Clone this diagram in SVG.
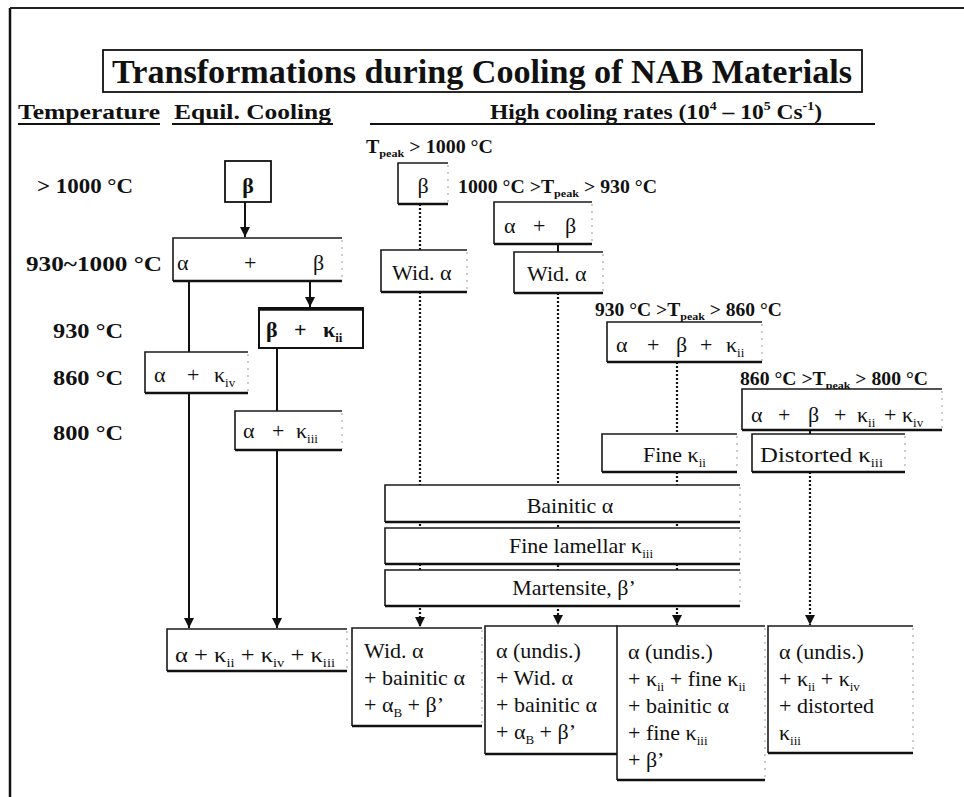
<svg xmlns="http://www.w3.org/2000/svg" width="964" height="797" viewBox="0 0 964 797" font-family="'Liberation Serif', 'Times New Roman', serif">
<style>
text{font-family:'Liberation Serif','Times New Roman',serif;fill:#111}
.title{font-size:34px;font-weight:bold}
.hdr{font-size:22px;font-weight:bold}
.tmp{font-size:21px;font-weight:bold}
.pk{font-size:18px;font-weight:bold}
.bx{font-size:22px}
.sub{font-size:13px}
.edge{fill:none;stroke:#1a1a1a;stroke-width:1.6}
.bot{fill:none;stroke:#111;stroke-width:2.6}
.dotr{fill:none;stroke:#aaa;stroke-width:1.2;stroke-dasharray:2 5}
.fill{fill:#fff;stroke:none}
.solid{stroke:#111;stroke-width:2;fill:none}
.dot{stroke:#111;stroke-width:2.2;fill:none;stroke-dasharray:2 2}
</style>
<defs>
<marker id="ad" viewBox="0 0 10 10" refX="10" refY="5" markerWidth="10" markerHeight="10" markerUnits="userSpaceOnUse" orient="auto">
<path d="M0,0 L10,5 L0,10 Z" fill="#111"/>
</marker>
</defs>
<rect width="964" height="797" fill="#fff"/>
<g id="frame">
<line x1="10" y1="8" x2="10" y2="797" stroke="#111" stroke-width="2.5"/>
<line x1="10" y1="8" x2="964" y2="8" stroke="#222" stroke-width="2"/>
</g>
<g id="title">
<rect x="103" y="50" width="759" height="42" fill="none" stroke="#111" stroke-width="1.8"/>
<text class="title" x="112" y="83" textLength="740" lengthAdjust="spacingAndGlyphs">Transformations during Cooling of NAB Materials</text>
</g>
<g id="headers">
<text class="hdr" x="18" y="119" textLength="142" lengthAdjust="spacingAndGlyphs">Temperature</text>
<line x1="18" y1="124" x2="160" y2="124" stroke="#111" stroke-width="2"/>
<text class="hdr" x="174" y="119" textLength="157" lengthAdjust="spacingAndGlyphs">Equil. Cooling</text>
<line x1="172" y1="124" x2="333" y2="124" stroke="#111" stroke-width="2"/>
<text class="hdr" x="490" y="119" textLength="332" lengthAdjust="spacingAndGlyphs">High cooling rates (10<tspan font-size="13" dy="-9">4</tspan><tspan dy="9"> – 10</tspan><tspan font-size="13" dy="-9">5</tspan><tspan dy="9"> Cs</tspan><tspan font-size="13" dy="-9">-1</tspan><tspan dy="9">)</tspan></text>
<line x1="370" y1="124" x2="875" y2="124" stroke="#111" stroke-width="2"/>
</g>
<g id="temps">
<text class="tmp" x="37" y="193" textLength="96" lengthAdjust="spacingAndGlyphs">&gt; 1000 °C</text>
<text class="tmp" x="26" y="271" textLength="136" lengthAdjust="spacingAndGlyphs">930~1000 °C</text>
<text class="tmp" x="53" y="338" textLength="70" lengthAdjust="spacingAndGlyphs">930 °C</text>
<text class="tmp" x="53" y="385" textLength="70" lengthAdjust="spacingAndGlyphs">860 °C</text>
<text class="tmp" x="53" y="440" textLength="70" lengthAdjust="spacingAndGlyphs">800 °C</text>
</g>
<g id="peaks">
<text class="pk" x="366" y="153" textLength="127" lengthAdjust="spacingAndGlyphs">T<tspan font-size="11" dy="4">peak</tspan><tspan dy="-4"> &gt; 1000 °C</tspan></text>
<text class="pk" x="458" y="193" textLength="199" lengthAdjust="spacingAndGlyphs">1000 °C &gt;T<tspan font-size="11" dy="4">peak</tspan><tspan dy="-4"> &gt; 930 °C</tspan></text>
<text class="pk" x="595" y="316" textLength="187" lengthAdjust="spacingAndGlyphs">930 °C &gt;T<tspan font-size="11" dy="4">peak</tspan><tspan dy="-4"> &gt; 860 °C</tspan></text>
<text class="pk" x="740" y="385" textLength="188" lengthAdjust="spacingAndGlyphs">860 °C &gt;T<tspan font-size="11" dy="4">peak</tspan><tspan dy="-4"> &gt; 800 °C</tspan></text>
</g>
<g id="connectors">
<line class="solid" x1="245" y1="202" x2="245" y2="237" marker-end="url(#ad)"/>
<line class="solid" x1="310" y1="281" x2="310" y2="307" marker-end="url(#ad)"/>
<line class="solid" x1="189" y1="281" x2="189" y2="628" marker-end="url(#ad)"/>
<line class="solid" x1="277" y1="348" x2="277" y2="628" marker-end="url(#ad)"/>
<line class="dot" x1="420" y1="204" x2="420" y2="250"/>
<line class="dot" x1="420" y1="292" x2="420" y2="627" marker-end="url(#ad)"/>
<line class="solid" x1="558" y1="244" x2="558" y2="252" stroke-width="1.5"/>
<line class="dot" x1="558" y1="293" x2="558" y2="625" marker-end="url(#ad)"/>
<line class="dot" x1="677" y1="362" x2="677" y2="434"/>
<line class="dot" x1="677" y1="472" x2="677" y2="625" marker-end="url(#ad)"/>
<line class="solid" x1="810" y1="430" x2="810" y2="434" stroke-width="1.5"/>
<line class="dot" x1="810" y1="472" x2="810" y2="625" marker-end="url(#ad)"/>
</g>
<g id="eq-beta">
<rect x="225" y="161" width="46" height="41" fill="#fff" stroke="#111" stroke-width="1.8"/>
<text class="bx" x="248" y="193" text-anchor="middle" font-weight="bold">β</text>
</g>
<g id="eq-alpha-beta">
<rect class="fill" x="173" y="238" width="169" height="43"/>
<path class="edge" d="M342,238 H173 V281"/><path class="bot" d="M173,281 H342"/><path class="dotr" d="M342,240 V280"/>
<text class="bx" x="177" y="270">α</text><text class="bx" x="244" y="270">+</text><text class="bx" x="313" y="270">β</text>
</g>
<g id="eq-beta-kii">
<rect x="259" y="308" width="104" height="40" fill="#fff" stroke="#111" stroke-width="2"/>
<line x1="259" y1="309" x2="363" y2="309" stroke="#111" stroke-width="3.5"/>
<text class="bx" y="337" font-weight="bold"><tspan x="266">β</tspan><tspan x="294">+</tspan><tspan x="323">κ</tspan><tspan class="sub" dy="5">ii</tspan></text>
</g>
<g id="eq-alpha-kiv">
<rect class="fill" x="145" y="352" width="103" height="41"/>
<path class="edge" d="M248,352 H145 V393"/><path class="bot" d="M145,393 H248"/><path class="dotr" d="M248,354 V392"/>
<text class="bx" y="382"><tspan x="154">α</tspan><tspan x="187">+</tspan><tspan x="214">κ</tspan><tspan class="sub" dy="5">iv</tspan></text>
</g>
<g id="eq-alpha-kiii">
<rect class="fill" x="235" y="411" width="107" height="39"/>
<path class="edge" d="M342,411 H235 V450"/><path class="bot" d="M235,450 H342"/><path class="dotr" d="M342,413 V449"/>
<text class="bx" y="438"><tspan x="243">α</tspan><tspan x="272">+</tspan><tspan x="296">κ</tspan><tspan class="sub" dy="5">iii</tspan></text>
</g>
<g id="eq-final">
<rect class="fill" x="167" y="629" width="180" height="42"/>
<path class="edge" d="M347,629 H167 V671"/><path class="bot" d="M167,671 H347"/><path class="dotr" d="M347,631 V670"/>
<text class="bx" x="175" y="662" textLength="160" lengthAdjust="spacingAndGlyphs">α + κ<tspan class="sub" dy="5">ii</tspan><tspan dy="-5"> + κ</tspan><tspan class="sub" dy="5">iv</tspan><tspan dy="-5"> + κ</tspan><tspan class="sub" dy="5">iii</tspan></text>
</g>
<g id="r-beta">
<rect class="fill" x="398" y="163" width="50" height="41"/>
<path class="edge" d="M448,163 H398 V204"/><path class="bot" d="M398,204 H448"/><path class="dotr" d="M448,165 V203"/>
<text class="bx" x="423" y="193" text-anchor="middle">β</text>
</g>
<g id="r-wid1">
<rect class="fill" x="381" y="250" width="86" height="42"/>
<path class="edge" d="M467,250 H381 V292"/><path class="bot" d="M381,292 H467"/><path class="dotr" d="M467,252 V291"/>
<text class="bx" x="392" y="280">Wid. α</text>
</g>
<g id="r-alpha-beta">
<rect class="fill" x="494" y="202" width="98" height="42"/>
<path class="edge" d="M592,202 H494 V244"/><path class="bot" d="M494,244 H592"/><path class="dotr" d="M592,204 V243"/>
<text class="bx" y="233"><tspan x="504">α</tspan><tspan x="533">+</tspan><tspan x="565">β</tspan></text>
</g>
<g id="r-wid2">
<rect class="fill" x="514" y="252" width="89" height="41"/>
<path class="edge" d="M603,252 H514 V293"/><path class="bot" d="M514,293 H603"/><path class="dotr" d="M603,254 V292"/>
<text class="bx" x="527" y="281">Wid. α</text>
</g>
<g id="r-abk">
<rect class="fill" x="607" y="322" width="155" height="40"/>
<path class="edge" d="M762,322 H607 V362"/><path class="bot" d="M607,362 H762"/><path class="dotr" d="M762,324 V361"/>
<text class="bx" y="352"><tspan x="616">α</tspan><tspan x="647">+</tspan><tspan x="676">β</tspan><tspan x="700">+</tspan><tspan x="726">κ</tspan><tspan class="sub" dy="5">ii</tspan></text>
</g>
<g id="r-abkk">
<rect class="fill" x="742" y="389" width="200" height="41"/>
<path class="edge" d="M942,389 H742 V430"/><path class="bot" d="M742,430 H942"/><path class="dotr" d="M942,391 V429"/>
<text class="bx" y="422"><tspan x="751">α</tspan><tspan x="778">+</tspan><tspan x="808">β</tspan><tspan x="834">+</tspan><tspan x="857">κ</tspan><tspan class="sub" dy="5">ii</tspan><tspan x="884" dy="-5">+</tspan><tspan x="902">κ</tspan><tspan class="sub" dy="5">iv</tspan></text>
</g>
<g id="r-fine-kii">
<rect class="fill" x="602" y="434" width="135" height="38"/>
<path class="edge" d="M737,434 H602 V472"/><path class="bot" d="M602,472 H737"/><path class="dotr" d="M737,436 V471"/>
<text class="bx" x="643" y="462">Fine κ<tspan class="sub" dy="5">ii</tspan></text>
</g>
<g id="r-dist-kiii">
<rect class="fill" x="752" y="434" width="153" height="38"/>
<path class="edge" d="M905,434 H752 V472"/><path class="bot" d="M752,472 H905"/><path class="dotr" d="M905,436 V471"/>
<text class="bx" x="760" y="462" textLength="123" lengthAdjust="spacingAndGlyphs">Distorted κ<tspan class="sub" dy="5">iii</tspan></text>
</g>
<g id="s-bainitic">
<rect class="fill" x="385" y="485" width="355" height="37"/>
<path class="edge" d="M740,485 H385 V522"/><path class="bot" d="M385,522 H740"/><path class="dotr" d="M740,487 V521"/>
<text class="bx" x="570" y="513" text-anchor="middle">Bainitic α</text>
</g>
<g id="s-lamellar">
<rect class="fill" x="385" y="528" width="355" height="36"/>
<path class="edge" d="M740,528 H385 V564"/><path class="bot" d="M385,564 H740"/><path class="dotr" d="M740,530 V563"/>
<text class="bx" x="581" y="553" text-anchor="middle">Fine lamellar κ<tspan class="sub" dy="5">iii</tspan></text>
</g>
<g id="s-martensite">
<rect class="fill" x="385" y="570" width="355" height="36"/>
<path class="edge" d="M740,570 H385 V606"/><path class="bot" d="M385,606 H740"/><path class="dotr" d="M740,572 V605"/>
<text class="bx" x="574" y="595" text-anchor="middle">Martensite, β’</text>
</g>
<g id="f-1">
<rect class="fill" x="352" y="628" width="130" height="98"/>
<path class="edge" d="M482,628 H352 V726"/><path class="bot" d="M352,726 H482"/><path class="dotr" d="M482,630 V725"/>
<text class="bx" x="364" y="658">Wid. α</text>
<text class="bx" x="364" y="685">+ bainitic α</text>
<text class="bx" x="364" y="712">+ α<tspan class="sub" dy="5">B</tspan><tspan dy="-5"> + β’</tspan></text>
</g>
<g id="f-2">
<rect class="fill" x="485" y="626" width="132" height="128"/>
<path class="edge" d="M617,626 H485 V754"/><path class="bot" d="M485,754 H617"/>
<text class="bx" x="496" y="658">α (undis.)</text>
<text class="bx" x="496" y="685">+ Wid. α</text>
<text class="bx" x="496" y="712">+ bainitic α</text>
<text class="bx" x="496" y="739">+ α<tspan class="sub" dy="5">B</tspan><tspan dy="-5"> + β’</tspan></text>
</g>
<g id="f-3">
<rect class="fill" x="617" y="626" width="148" height="154"/>
<path class="edge" d="M765,626 H617 V780"/><path class="bot" d="M617,780 H765"/><path class="dotr" d="M765,628 V779"/>
<text class="bx" x="628" y="659">α (undis.)</text>
<text class="bx" x="628" y="686">+ κ<tspan class="sub" dy="5">ii</tspan><tspan dy="-5"> + fine κ</tspan><tspan class="sub" dy="5">ii</tspan></text>
<text class="bx" x="628" y="713">+ bainitic α</text>
<text class="bx" x="628" y="740">+ fine κ<tspan class="sub" dy="5">iii</tspan></text>
<text class="bx" x="628" y="767">+ β’</text>
</g>
<g id="f-4">
<rect class="fill" x="768" y="626" width="145" height="127"/>
<path class="edge" d="M913,626 H768 V753"/><path class="bot" d="M768,753 H913"/><path class="dotr" d="M913,628 V752"/>
<text class="bx" x="779" y="659">α (undis.)</text>
<text class="bx" x="779" y="686">+ κ<tspan class="sub" dy="5">ii</tspan><tspan dy="-5"> + κ</tspan><tspan class="sub" dy="5">iv</tspan></text>
<text class="bx" x="779" y="713">+ distorted</text>
<text class="bx" x="779" y="740">κ<tspan class="sub" dy="5">iii</tspan></text>
</g>
</svg>
